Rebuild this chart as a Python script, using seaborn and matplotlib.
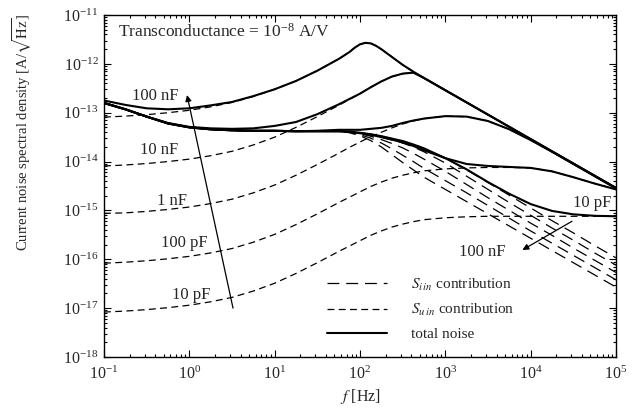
import numpy as np
import matplotlib
matplotlib.use("Agg")
import matplotlib.pyplot as plt
from matplotlib.lines import Line2D
from matplotlib.ticker import FixedLocator, LogLocator, NullFormatter
import seaborn as sns

# Frequency grid, log10(f / Hz)
log_f = [-1, -0.75, -0.5, -0.25, 0, 0.25, 0.5, 0.75, 1, 1.25, 1.5, 1.75, 1.875,
         2, 2.125, 2.25, 2.375, 2.5, 2.625, 2.75, 3, 3.25, 3.5, 3.75, 4, 4.25,
         4.5, 4.75, 5]
# finer grid around the 100 nF resonance peak
log_f_100n = [-1, -0.75, -0.5, -0.25, 0, 0.25, 0.5, 0.75, 1, 1.25, 1.5, 1.75, 1.875,
              1.9375, 2, 2.0625, 2.125, 2.1875, 2.25, 2.375, 2.5, 2.625, 2.75, 3,
              3.25, 3.5, 3.75, 4, 4.25, 4.5, 4.75, 5]

caps = ["10 pF", "100 pF", "1 nF", "10 nF", "100 nF"]

x_ticks = [1e-1, 1e0, 1e1, 1e2, 1e3, 1e4, 1e5]
y_ticks = [1e-18, 1e-17, 1e-16, 1e-15, 1e-14, 1e-13, 1e-12, 1e-11]

# Voltage-noise (S_un) contribution, log10 of A/sqrt(Hz)
sun_10p = [-17.08, -17.06, -17.03, -16.99, -16.94, -16.87, -16.78, -16.65, -16.49,
           -16.29, -16.07, -15.84, -15.73, -15.62, -15.51, -15.42, -15.34, -15.28,
           -15.23, -15.19, -15.15, -15.13, -15.12, -15.12, -15.12, -15.12, -15.12,
           -15.12, -15.12]
sun_100p = [-16.08, -16.06, -16.03, -15.99, -15.94, -15.87, -15.78, -15.65, -15.49,
            -15.29, -15.07, -14.84, -14.73, -14.62, -14.51, -14.42, -14.34, -14.28,
            -14.23, -14.19, -14.15, -14.13, -14.12, -14.12, -14.13, -14.20, -14.32,
            -14.45, -14.57]
sun_1n = [-15.06, -15.05, -15.02, -14.98, -14.93, -14.86, -14.77, -14.64, -14.48,
          -14.28, -14.06, -13.83, -13.71, -13.60, -13.49, -13.40, -13.31, -13.23,
          -13.17, -13.12, -13.07, -13.08, -13.17, -13.34, -13.56, -13.80, -14.05,
          -14.30, -14.55]
sun_10n = [-14.09, -14.07, -14.04, -14.00, -13.95, -13.88, -13.79, -13.66, -13.50,
           -13.30, -13.08, -12.85, -12.73, -12.61, -12.48, -12.36, -12.26, -12.20,
           -12.18, -12.29, -12.54, -12.79, -13.04, -13.29, -13.54, -13.79, -14.04,
           -14.29, -14.54]
sun_100n = [-13.09, -13.07, -13.04, -13.00, -12.95, -12.88, -12.79, -12.67, -12.52,
            -12.35, -12.14, -11.90, -11.76, -11.67, -11.60, -11.57, -11.58, -11.63,
            -11.70, -11.86, -12.02, -12.16, -12.29, -12.54, -12.79, -13.04, -13.29,
            -13.54, -13.79, -14.04, -14.29, -14.54]

# Current-noise (S_in) contribution, log10 of A/sqrt(Hz)
sin_10p = [-12.80, -12.93, -13.08, -13.22, -13.30, -13.34, -13.36, -13.37, -13.37,
           -13.38, -13.38, -13.38, -13.39, -13.41, -13.44, -13.48, -13.53, -13.58,
           -13.65, -13.73, -13.93, -14.17, -14.43, -14.69, -14.95, -15.21, -15.46,
           -15.72, -15.97]
sin_100p = [-12.80, -12.93, -13.08, -13.22, -13.30, -13.34, -13.36, -13.37, -13.37,
            -13.38, -13.38, -13.38, -13.39, -13.42, -13.45, -13.50, -13.56, -13.62,
            -13.70, -13.80, -14.03, -14.30, -14.57, -14.84, -15.10, -15.36, -15.61,
            -15.87, -16.12]
sin_1n = [-12.80, -12.93, -13.08, -13.22, -13.30, -13.34, -13.36, -13.37, -13.37,
          -13.38, -13.38, -13.38, -13.39, -13.43, -13.48, -13.55, -13.63, -13.72,
          -13.83, -13.95, -14.20, -14.47, -14.74, -15.00, -15.26, -15.51, -15.77,
          -16.02, -16.27]
sin_10n = [-12.80, -12.93, -13.08, -13.22, -13.30, -13.34, -13.36, -13.37, -13.37,
           -13.38, -13.38, -13.38, -13.40, -13.45, -13.52, -13.62, -13.74, -13.87,
           -14.00, -14.14, -14.39, -14.64, -14.90, -15.16, -15.42, -15.67, -15.92,
           -16.17, -16.42]
sin_100n = [-12.80, -12.93, -13.08, -13.22, -13.30, -13.34, -13.36, -13.37, -13.37,
            -13.38, -13.38, -13.38, -13.41, -13.47, -13.57, -13.70, -13.86, -14.02,
            -14.17, -14.32, -14.57, -14.82, -15.07, -15.32, -15.57, -15.82, -16.07,
            -16.32, -16.57]

# Total noise, log10 of A/sqrt(Hz)
tot_10p = [-12.80, -12.93, -13.08, -13.22, -13.30, -13.34, -13.36, -13.37, -13.37,
           -13.38, -13.38, -13.38, -13.39, -13.41, -13.44, -13.48, -13.53, -13.58,
           -13.65, -13.73, -13.93, -14.16, -14.42, -14.66, -14.87, -15.01, -15.08,
           -15.11, -15.12]
tot_100p = [-12.80, -12.93, -13.08, -13.22, -13.30, -13.34, -13.36, -13.37, -13.37,
            -13.38, -13.38, -13.38, -13.39, -13.42, -13.45, -13.50, -13.55, -13.61,
            -13.68, -13.77, -13.93, -14.05, -14.09, -14.11, -14.13, -14.20, -14.32,
            -14.45, -14.57]
tot_1n = [-12.80, -12.93, -13.08, -13.22, -13.30, -13.34, -13.36, -13.37, -13.37,
          -13.38, -13.37, -13.35, -13.35, -13.35, -13.33, -13.31, -13.27, -13.21,
          -13.16, -13.12, -13.07, -13.08, -13.17, -13.34, -13.56, -13.80, -14.05,
          -14.30, -14.55]
tot_10n = [-12.80, -12.93, -13.08, -13.21, -13.29, -13.32, -13.33, -13.32, -13.27,
           -13.19, -13.03, -12.83, -12.72, -12.61, -12.48, -12.36, -12.26, -12.20,
           -12.18, -12.29, -12.54, -12.79, -13.04, -13.29, -13.54, -13.79, -14.04,
           -14.29, -14.54]
tot_100n = [-12.75, -12.84, -12.91, -12.93, -12.91, -12.85, -12.78, -12.66, -12.52,
            -12.35, -12.14, -11.90, -11.76, -11.67, -11.60, -11.57, -11.58, -11.63,
            -11.70, -11.86, -12.02, -12.16, -12.29, -12.54, -12.79, -13.04, -13.29,
            -13.54, -13.79, -14.04, -14.29, -14.54]

sun_curves = [(log_f, sun_10p), (log_f, sun_100p), (log_f, sun_1n),
              (log_f, sun_10n), (log_f_100n, sun_100n)]
sin_curves = [(log_f, sin_10p), (log_f, sin_100p), (log_f, sin_1n),
              (log_f, sin_10n), (log_f, sin_100n)]
tot_curves = [(log_f, tot_10p), (log_f, tot_100p), (log_f, tot_1n),
              (log_f, tot_10n), (log_f_100n, tot_100n)]

sns.set_style("ticks")
plt.rcParams.update({
    "font.family": ["Liberation Serif", "DejaVu Serif"],
    "mathtext.fontset": "stix",
    "axes.unicode_minus": False,
    "xtick.direction": "in",
    "ytick.direction": "in",
})

fig = plt.figure(figsize=(6.4, 4.12), dpi=100)
ax = fig.add_axes([104 / 640, 1 - 357 / 412, 512 / 640, 342 / 412])
ax.set_xscale("log")
ax.set_yscale("log")

sin_style = (0, (9.5, 5.5))
sun_style = (0, (5.5, 3.5))


def draw(curves, style, width):
    for lf, vals in curves:
        sns.lineplot(x=10.0 ** np.asarray(lf), y=10.0 ** np.asarray(vals), ax=ax,
                     color="black", lw=width, linestyle=style,
                     estimator=None, sort=False)


draw(sin_curves, sin_style, 0.9)
draw(sun_curves, sun_style, 0.9)
draw(tot_curves, "-", 1.5)

ax.set_xlim(x_ticks[0], x_ticks[-1])
ax.set_ylim(y_ticks[0], y_ticks[-1])
ax.xaxis.set_major_locator(FixedLocator(x_ticks))
ax.yaxis.set_major_locator(FixedLocator(y_ticks))
ax.xaxis.set_minor_locator(LogLocator(base=10, subs=np.arange(2, 10), numticks=100))
ax.yaxis.set_minor_locator(LogLocator(base=10, subs=np.arange(2, 10), numticks=100))
ax.xaxis.set_minor_formatter(NullFormatter())
ax.yaxis.set_minor_formatter(NullFormatter())
ax.tick_params(which="both", top=True, right=True, color="black", width=0.8)
ax.tick_params(which="major", length=5, labelsize=11.5)
ax.tick_params(axis="x", which="major", pad=6)
ax.tick_params(axis="y", which="major", pad=4)
ax.tick_params(which="minor", length=2.5)
for sp in ax.spines.values():
    sp.set_linewidth(1.0)
    sp.set_color("black")

ax.set_xlabel(r"$f$ [Hz]", fontsize=11.5, labelpad=3)
fig.text(22 / 640, 1 - 132 / 412,
         r"Current noise spectral density [A/$\sqrt{\mathrm{Hz}}$]",
         rotation=90, ha="center", va="center", fontsize=10.5)

ax.text(0.027, 0.95, r"Transconductance = $\mathdefault{10^{-8}}$ A/V",
        transform=ax.transAxes, ha="left", va="center", fontsize=12.5)

# capacitance labels along the curves
left_pos = [(1.05, 10 ** -16.73), (0.87, 10 ** -15.67), (0.63, 10 ** -14.81),
            (0.44, 10 ** -13.76), (0.40, 10 ** -12.66)]
for lab, (xx, yy) in zip(caps, left_pos):
    ax.text(xx, yy, lab, ha="center", va="center", fontsize=12)
ax.text(10 ** 4.72, 10 ** -14.85, caps[0], ha="center", va="center", fontsize=12)
ax.text(10 ** 3.43, 10 ** -15.85, caps[-1], ha="center", va="center", fontsize=12)

arrow = dict(arrowstyle="-|>", color="black", lw=0.9, mutation_scale=9,
             shrinkA=0, shrinkB=0)
ax.annotate("", xy=(0.94, 2.3e-13), xytext=(3.25, 1.0e-17), arrowprops=arrow)
ax.annotate("", xy=(8.0e3, 1.55e-16), xytext=(3.05e4, 6.0e-16), arrowprops=arrow)

handles = [
    Line2D([], [], color="black", lw=0.9, linestyle=sin_style),
    Line2D([], [], color="black", lw=0.9, linestyle=sun_style),
    Line2D([], [], color="black", lw=1.5),
]
labels = [r"$S_{i\,in}$ contribution", r"$S_{u\,in}$ contribution", "total noise"]
ax.legend(handles, labels, loc="upper left", bbox_to_anchor=(0.4355, 0.235),
          frameon=False, fontsize=11, handlelength=3.9, handletextpad=1.6,
          borderpad=0, borderaxespad=0, labelspacing=0.6)

fig.savefig("out.png", dpi=100)
